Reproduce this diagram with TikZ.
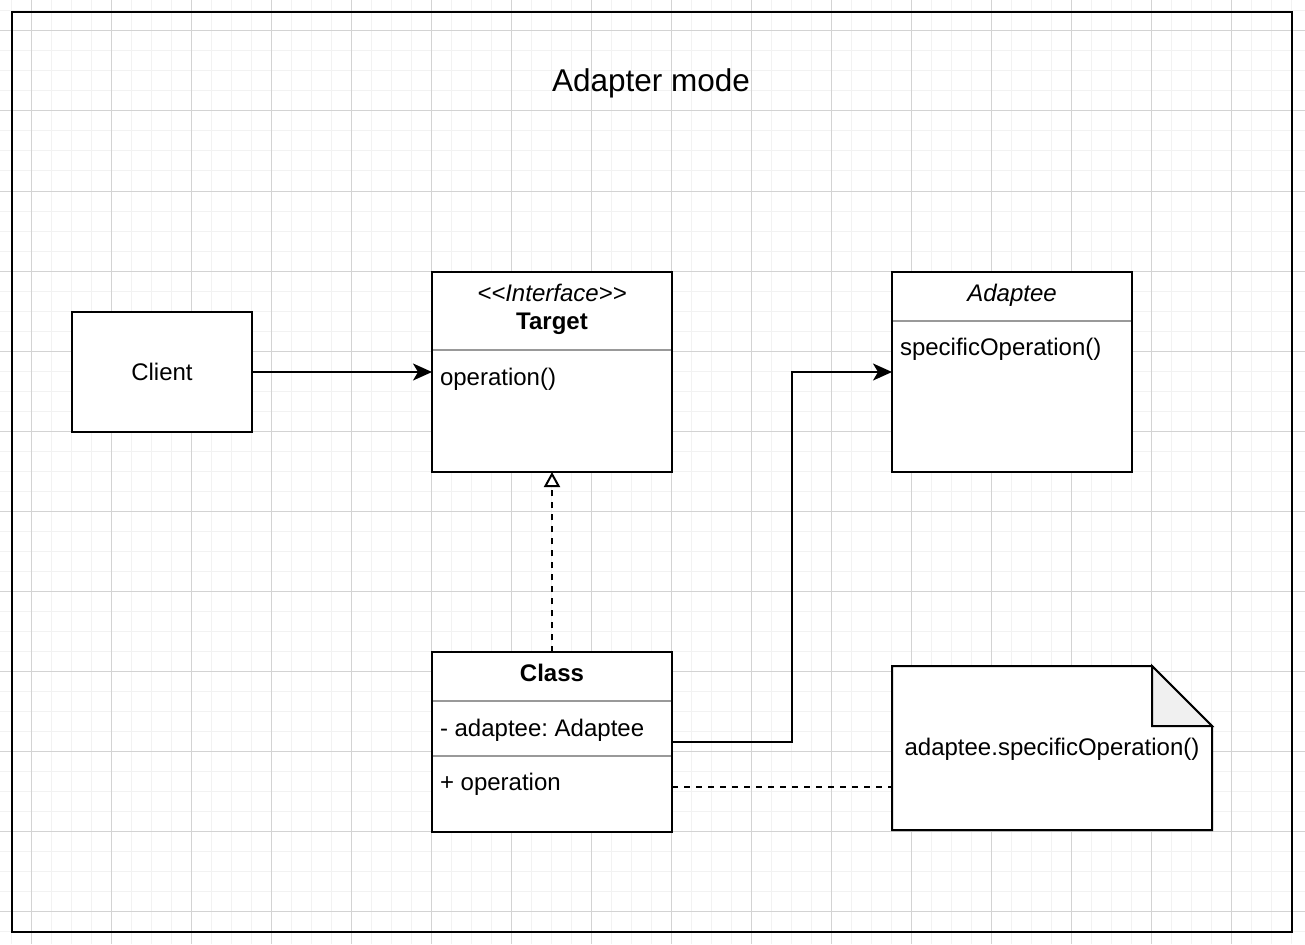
\documentclass[tikz,border=0pt]{standalone}
\usepackage{fontspec}
\setmainfont{Liberation Sans}
\usetikzlibrary{arrows.meta}
\frenchspacing
\definecolor{gridminor}{HTML}{F2F2F2}
\definecolor{gridmajor}{HTML}{D3D3D3}
\definecolor{divider}{HTML}{999999}
\definecolor{foldfill}{HTML}{F0F0F0}
\tikzset{
  box/.style={draw, line width=2pt, fill=white, inner sep=0pt, outer sep=0pt},
  txt/.style={font=\fontsize{24pt}{28pt}\selectfont, inner sep=0pt, outer sep=0pt},
  titletxt/.style={font=\fontsize{31.5pt}{36pt}\selectfont, inner sep=0pt, outer sep=0pt},
  divline/.style={draw=divider, line width=2pt},
  arr/.style={line width=2pt, -{Stealth[length=19pt,width=17pt,inset=5pt]}},
  realize/.style={line width=2pt, dash pattern=on 6pt off 6pt, -{Triangle[open,length=15pt,width=16pt,fill=white]}},
  dashline/.style={line width=2pt, dash pattern=on 6pt off 6pt},
  gminor/.style={draw=gridminor, line width=1pt},
  gmajor/.style={draw=gridmajor, line width=1pt},
  notebody/.style={line width=2pt, fill=white, line join=miter},
  notefold/.style={line width=2pt, fill=foldfill, line join=miter}
}
\begin{document}
\begin{tikzpicture}[x=1pt,y=-1pt]
\useasboundingbox (0,0) rectangle (1305,944);
\fill[white] (0,0) rectangle (1305,944);
% grid
\foreach \v in {11,31,...,1311} \draw[gminor] (\v,0) -- (\v,944);
\foreach \v in {11,31,...,951} \draw[gminor] (0,\v) -- (1305,\v);
\foreach \v in {31,111,...,1311} \draw[gmajor] (\v,0) -- (\v,944);
\foreach \v in {31,111,...,951} \draw[gmajor] (0,\v) -- (1305,\v);
% frame
\draw[line width=2pt] (12,12) rectangle (1292,932);
% title
\node[titletxt, anchor=base] (title) at (651,92) {Adapter mode};
% client
\node[box, txt, minimum width=180pt, minimum height=120pt] (client) at (162,372) {Client};
% target
\node[box, minimum width=240pt, minimum height=200pt] (target) at (552,372) {};
\draw[divline] (433,350) -- (671,350);
\node[txt, anchor=base] (tster) at (552,301) {\itshape <{}<Interface>{}>};
\node[txt, anchor=base] (tname) at (552,329) {\bfseries Target};
\node[txt, anchor=base west] (top) at (440,385) {operation()};
% adaptee
\node[box, minimum width=240pt, minimum height=200pt] (adaptee) at (1012,372) {};
\draw[divline] (893,321) -- (1131,321);
\node[txt, anchor=base] (aname) at (1012,301) {\itshape Adaptee};
\node[txt, anchor=base west] (aop) at (900,355) {specificOperation()};
% class
\node[box, minimum width=240pt, minimum height=180pt] (cls) at (552,742) {};
\draw[divline] (433,701) -- (671,701);
\draw[divline] (433,756) -- (671,756);
\node[txt, anchor=base] (cname) at (552,681) {\bfseries Class};
\node[txt, anchor=base west] (cattr) at (440,736) {- adaptee: Adaptee};
\node[txt, anchor=base west] (cop) at (440,790) {+ operation};
% note
\node[minimum width=320pt, minimum height=164pt, inner sep=0pt, outer sep=0pt] (note) at (1052,748) {};
\draw[notebody] (note.south west) -- (note.north west) -- ([xshift=-60pt]note.north east) -- ([yshift=-60pt]note.north east) -- (note.south east) -- cycle;
\draw[notefold] ([xshift=-60pt]note.north east) -- ([xshift=-60pt,yshift=-60pt]note.north east) -- ([yshift=-60pt]note.north east) -- cycle;
\node[txt, anchor=base] (ntext) at (1052,755) {adaptee.specificOperation()};
% connectors
\draw[arr] (client.east) -- (target.west);
\draw[arr] (cls.east) -- ++(120,0) |- (adaptee.west);
\draw[realize] (cls.north) -- (target.south);
\coordinate (clsop) at (672,787);
\draw[dashline] (clsop) -- (note.west |- clsop);
\end{tikzpicture}
\end{document}
